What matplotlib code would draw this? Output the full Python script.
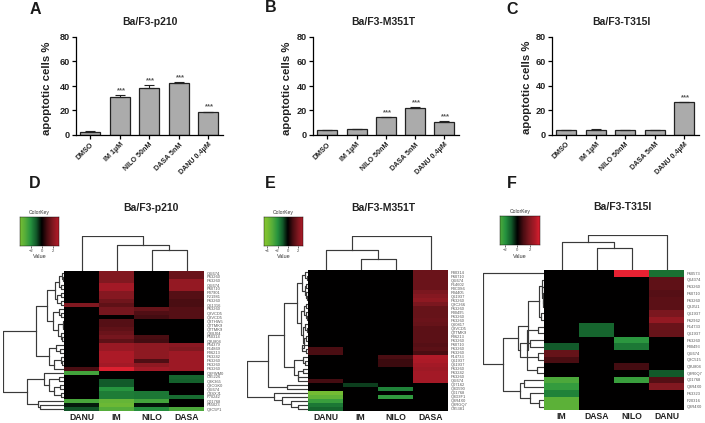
#!/usr/bin/env python
# coding:utf-8

import numpy as np
import matplotlib
matplotlib.use('Agg')
import matplotlib.pyplot as plt
from matplotlib.colors import LinearSegmentedColormap

W, H = 705.0, 423.0

treatments = ['DMSO', 'IM 1µM', 'NILO 50nM', 'DASA 5nM', 'DANU 0.4µM']
bars_a = [2.8, 31, 38.5, 42.8, 18.5]
errs_a = [0.3, 1.3, 2.5, 0.6, 0.6]
bars_b = [3.7, 5, 14.3, 22.3, 11]
errs_b = [0.4, 0.3, 0.2, 0.6, 0.6]
bars_c = [3.8, 4, 3.5, 3.6, 26.3]
errs_c = [0.2, 0.2, 0.1, 0.1, 0.1]
stars_a = [0, 1, 1, 1, 1]
stars_b = [0, 0, 1, 1, 1]
stars_c = [0, 0, 0, 0, 1]

# heatmap D, one list per column
cols_d = ['DANU', 'IM', 'NILO', 'DASA']
danu_d = [0, 0, 0, 0, 0, 0, 0, 0, 2.0, 0, 0, 0, 0, 0, 0, 0, 0, 0, 0, 0, 0, 0, 0, 0, 1.0,
          -2.6, 0, 0, 0, 0, 0, 0, -2.7, -0.3, -0.9]
im_d = [2.0, 2.0, 2.0, 2.7, 2.7, 2.1, 2.1, 1.7, 1.4, 1.8, 1.8, 0, 1.2, 1.2, 1.4, 1.6, 1.8, 1.4, 2.5, 2.5,
        2.9, 2.9, 2.9, 2.7, 3.7, 0, 0, -1.0, -1.0, -2.0, -1.6, -1.6, -3.4, -3.6, -3.0]
nilo_d = [0, 0, 0, 0, 0, 0, 0, 0, 0, 1.5, 1.1, 0.9, 0, 0, 0, 0, 1.0, 0.9, 2.3, 2.3,
          2.3, 2.3, 1.1, 2.3, 2.7, 0, 0, 0, 0, 0, -1.5, -1.5, -2.6, -0.2, -1.9]
dasa_d = [1.6, 1.6, 2.4, 2.4, 2.4, 1.2, 1.2, 1.0, 1.0, 1.2, 1.2, 1.2, 0, 0, 0, 0, 0, 0, 2.2, 2.0,
          2.6, 2.6, 2.6, 2.6, 2.6, 0, -1.2, -1.1, 0, 0, 0, -1.3, 0, 0, -2.8]
rows_d = ['Q6I674', 'P63260', 'P63260', 'Q6I674', 'P60710', 'P07901', 'P21981', 'P63260', 'Q61316',
          'P63260', 'Q8VCD5', 'Q8VCD5', 'Q3THW5', 'Q7TMK9', 'Q7TMK9', 'Q8BJ04', 'P50314', 'Q3U804',
          'P54379', 'P14869', 'P06213', 'P63242', 'P63260', 'P63260', 'P63260', 'Q8FWM0', 'O35226',
          'Q8K365', 'Q8CGK0', 'Q6I674', 'Q3SXJ1', 'P70242', 'Q01768', 'P55023', 'Q8C5P1']

cols_e = ['DANU', 'IM', 'NILO', 'DASA']
danu_e = [0, 0, 0, 0, 0, 0, 0, 0, 0, 0, 0, 0, 0, 0, 0, 0, 0, 0, 0, 1.0, 1.0, 0, 0, 0, 0, 0, 0, 0.9,
          0, 0, -3.8, -3.3, -2.4, -1.5, -1.2]
im_e = [0] * 28 + [-0.7] + [0] * 6
nilo_e = [0] * 21 + [1.0, 0.8, 0.8] + [0] * 5 + [-1.7, 0, -2.2, 0, 0, 0]
dasa_e = [1.6, 1.6, 1.6, 1.6, 1.6, 1.9, 2.1, 2.3, 1.9, 1.5, 1.5, 1.5, 1.6, 1.5, 1.3, 1.3, 1.3, 1.3, 1.2, 1.3,
          1.0, 3.0, 2.9, 2.7, 2.6, 2.7, 2.7, 2.7, 0, 0, 0, 0, 0, 0, 0]
rows_e = ['P80314', 'P60710', 'Q6I674', 'P14602', 'P0C0S6', 'P04405', 'Q61937', 'P63260', 'Q8C266',
          'P63260', 'P00495', 'P63260', 'P63260', 'Q60817', 'Q8VCD5', 'Q7TMK9', 'P06213', 'P63260',
          'P60710', 'P63260', 'P63260', 'F14733', 'Q61937', 'Q61937', 'P63260', 'P63242', 'P63260', 'Q6I674',
          'Q07162', 'Q8D590', 'Q01768', 'Q8D3F1', 'Q8R4X0', 'Q8RGQ7', 'O35381']

cols_f = ['IM', 'DASA', 'NILO', 'DANU']
im_f = [0, 0, 0, 0, 0, 0, 0, 0, 0, 0, 0, -1.0, 1.5, 1.0, 0, 0, -2.8, -2.3, -1.7, -3.2, -3.2]
dasa_f = [0, 0, 0, 0, 0, 0, 0, 0, -1.2, -1.2, 0, 0, 0, 0, 0, 0, 0, 0, 0, 0, 0]
nilo_f = [3.9, 0, 0, 0, 0, 0, 0, 0, 0, 0, -2.1, -1.5, 0, 0, 0.9, 0, -2.4, 0, 0, 0, 0]
danu_f = [-1.4, 1.4, 1.4, 1.2, 1.3, 1.3, 1.9, 2.4, 1.6, 1.5, 0, 0, 0, 0, 0, -1.0, 1.2, 2.0, 0, 0, 0]
rows_f = ['P60573', 'Q64374', 'P63260', 'P60710', 'P63260', 'Q8JIU1', 'Q61937', 'P62962', 'P14733',
          'Q61937', 'P63260', 'P00493', 'Q6I674', 'Q8C515', 'Q3U804', 'Q9R0Q7', 'Q01768', 'Q8R4X0',
          'P63323', 'P20316', 'Q8R4X0']

# dendrograms: (height, child, child), a plain int is a leaf
top_d = (102, 0, (77, 1, (61, 2, 3)))
top_e = (102, (59, 0, (34, 1, 2)), 3)
top_f = (104, (82, 0, (66, 1, 2)), 3)

left_d = (180,
          (82,
           (50,
            (28, (15, (6, 0, (4, 1, 2)), (8, 3, 4)), (20, (8, 5, 6), (10, 7, 8))),
            (32, (15, 9, (9, 10, 11)), (18, (4, 12, (3, 13, 14)), (10, 15, (6, 16, 17))))),
           (45, (25, 18, (12, 19, 20)), (30, (10, 21, (6, 22, 23)), 24))),
          (108,
           (60, 25, (45, (15, 26, 27), (30, (12, 28, 29), (10, 30, 31)))),
           (78, 32, (70, 33, 34))))
left_e = (183,
          (121,
           (73,
            (33,
             (18, (8, 0, (4, 1, 2)), (10, (5, 3, 4), (6, 5, (3, 6, 7)))),
             (20, (12, (6, 8, 9), (5, 10, (3, 11, 12))), (16, (8, 13, (4, 14, 15)), (12, (6, 16, 17), (18, 18, (6, 19, 20)))))),
            (43, (15, 21, (8, 22, 23)), (30, (14, 24, 25), (30, 26, 27)))),
           (63, 28, 29)),
          (103, 30, (78, 31, (50, 32, (30, 33, 34)))))
left_f = (182,
          0,
          (122,
           (79,
            (47,
             (14, (6, 1, (5, 2, (4, 3, (3, 4, 5)))), (10, 6, 7)),
             (52, (18, 8, 9), (20, 14, 15))),
            (72, (42, 10, 11), (17, 12, 13))),
           (72, (60, 16, 17), (42, 18, (15, 19, 20)))))

# one colour scale, reads value -5..5
green_black_red = LinearSegmentedColormap.from_list('gbr', [
    (0.0, '#8cc832'), (0.1, '#7abf32'), (0.2, '#55ad3a'), (0.3, '#26933f'),
    (0.4, '#125a2a'), (0.5, '#000000'), (0.6, '#4a0d12'), (0.7, '#801820'),
    (0.8, '#b01a28'), (0.9, '#ee2233'), (1.0, '#ff2a3a')])

plt.rcParams['font.family'] = ['Liberation Sans', 'DejaVu Sans']
fig = plt.figure(figsize=(7.05, 4.23), dpi=100)


def px_axes(x0, y0, x1, y1):
    # pixel box, y from the top of the image
    a = fig.add_axes([x0 / W, 1 - y1 / H, (x1 - x0) / W, (y1 - y0) / H])
    return a


def px_text(x, y, s, **kw):
    fig.text(x / W, 1 - y / H, s, ha=kw.pop('ha', 'center'), va=kw.pop('va', 'center'), **kw)


def bar_panel(x0, y0, x1, y1, bars, errs, stars, title, title_x, title_y, label_off):
    ax = px_axes(x0, y0, x1, y1)
    pos = np.arange(len(bars))
    ax.bar(pos, bars, width=0.68, color='#ababab', edgecolor='#222222', linewidth=0.9)
    ax.errorbar(pos, bars, yerr=[[0] * len(errs), errs], fmt='none', ecolor='#222222',
                elinewidth=0.8, capsize=3.4, capthick=0.8)
    for p, b, e, s in zip(pos, bars, errs, stars):
        if s:
            ax.text(p + 0.05, b + e + 0.8, '***', ha='center', va='bottom', fontsize=5.5,
                    color='#555555', fontweight='bold')
    ax.set_xlim(-0.49, 4.5)
    ax.set_ylim(0, 80)
    ax.set_yticks([0, 20, 40, 60, 80])
    ax.set_xticks(pos)
    ax.set_xticklabels(treatments, rotation=45, ha='right', rotation_mode='anchor',
                       fontsize=5.1, fontweight='bold', color='#222222')
    ax.tick_params(axis='y', labelsize=6.6, width=0.9, length=3, pad=1.5, labelcolor='#222222')
    ax.tick_params(axis='x', width=0.9, length=3, pad=1.5)
    for t in ax.get_yticklabels():
        t.set_fontweight('bold')
    ax.spines['top'].set_visible(False)
    ax.spines['right'].set_visible(False)
    ax.spines['left'].set_linewidth(0.9)
    ax.spines['bottom'].set_linewidth(0.9)
    ax.set_ylabel('apoptotic cells %', fontsize=8.2, fontweight='bold', color='#222222')
    ax.yaxis.set_label_coords(-label_off / (x1 - x0), 0.48)
    px_text(title_x, title_y, title, fontsize=7.5, fontweight='bold', color='#222222')


def draw_tree(ax, node, vertical):
    # returns (leaf position, height) of this node and draws its link
    if isinstance(node, int):
        return node + 0.5, 0
    h, a, b = node
    pa, ha = draw_tree(ax, a, vertical)
    pb, hb = draw_tree(ax, b, vertical)
    xs = [pa, pa, pb, pb]
    ys = [ha, h, h, hb]
    if vertical:
        ax.plot(xs, ys, color='#3a3a3a', lw=0.85, solid_capstyle='projecting')
    else:
        ax.plot(ys, xs, color='#3a3a3a', lw=0.85, solid_capstyle='projecting')
    return (pa + pb) / 2.0, h


def heat_panel(box, columns, col_names, row_names, top_tree, left_tree, left_x, top_y, title, title_xy,
               key_box, key_ticks, key_range):
    x0, y0, x1, y1 = box
    data = np.array(columns, dtype=float).T
    ax = px_axes(x0, y0, x1, y1)
    ax.pcolormesh(data, cmap=green_black_red, vmin=-5, vmax=5)
    ax.set_xlim(0, data.shape[1])
    ax.set_ylim(data.shape[0], 0)
    ax.set_xticks(np.arange(data.shape[1]) + 0.5)
    ax.set_xticklabels(col_names, fontsize=6.2, fontweight='bold', color='#222222')
    ax.set_yticks(np.arange(data.shape[0]) + 0.5)
    ax.set_yticklabels(row_names, fontsize=2.9, color='#555555')
    ax.yaxis.tick_right()
    ax.tick_params(axis='both', length=0)
    ax.tick_params(axis='x', pad=1.5)
    ax.tick_params(axis='y', pad=2)
    for s in ax.spines.values():
        s.set_visible(False)

    # column tree on top
    at = px_axes(x0, top_y, x1, y0)
    draw_tree(at, top_tree, True)
    at.set_xlim(0, data.shape[1])
    at.set_ylim(0, top_tree[0])
    at.axis('off')

    # row tree on the left
    al = px_axes(left_x, y0, x0, y1)
    draw_tree(al, left_tree, False)
    al.set_ylim(data.shape[0], 0)
    al.set_xlim(left_tree[0], 0)
    al.axis('off')

    px_text(title_xy[0], title_xy[1], title, fontsize=7.5, fontweight='bold', color='#222222')

    # colour key
    kx0, ky0, kx1, ky1 = key_box
    ak = px_axes(kx0, ky0, kx1, ky1)
    grad = np.linspace(key_range[0], key_range[1], 128).reshape(1, -1)
    ak.imshow(grad, aspect='auto', cmap=green_black_red, vmin=-5, vmax=5,
              extent=[key_range[0], key_range[1], 0, 1])
    ak.set_yticks([])
    ak.set_xticks(key_ticks)
    ak.tick_params(axis='x', labelsize=3, length=1.5, width=0.4, pad=0.8, labelcolor='#444444')
    for s in ak.spines.values():
        s.set_linewidth(0.3)
    px_text((kx0 + kx1) / 2.0, ky0 - 4.5, 'ColorKey', fontsize=3.6, color='#333333')
    px_text((kx0 + kx1) / 2.0, ky1 + 11, 'Value', fontsize=4, color='#333333')


bar_panel(76, 37, 223, 135, bars_a, errs_a, stars_a, 'Ba/F3-p210', 150, 22, 24)
bar_panel(313, 37, 459, 135, bars_b, errs_b, stars_b, 'Ba/F3-M351T', 383, 22, 21)
bar_panel(552, 36.5, 699, 134.5, bars_c, errs_c, stars_c, 'Ba/F3-T315I', 621, 22, 20)

heat_panel((64, 271, 204, 411), [danu_d, im_d, nilo_d, dasa_d], cols_d, rows_d, top_d, left_d, 3, 236,
           'Ba/F3-p210', (151, 208), (20, 217, 59, 246), [-2, 0, 2], (-3.9, 3.1))
heat_panel((308, 270, 448, 411), [danu_e, im_e, nilo_e, dasa_e], cols_e, rows_e, top_e, left_e, 247, 236,
           'Ba/F3-M351T', (383, 208), (264, 217, 303, 246), [-4, -2, 0, 2], (-4.6, 2.9))
heat_panel((544, 270, 684, 410), [im_f, dasa_f, nilo_f, danu_f], cols_f, rows_f, top_f, left_f, 483, 235,
           'Ba/F3-T315I', (622, 207), (500, 216, 540, 245), [-2, 0, 2], (-2.85, 3.7))

for letter, lx, ly in [('A', 35, 9), ('B', 271, 8), ('C', 512, 9), ('D', 35, 184), ('E', 270, 184), ('F', 512, 184)]:
    px_text(lx, ly, letter, fontsize=11.5, fontweight='bold', color='#1a1a1a')

plt.savefig('out.png', dpi=100)
